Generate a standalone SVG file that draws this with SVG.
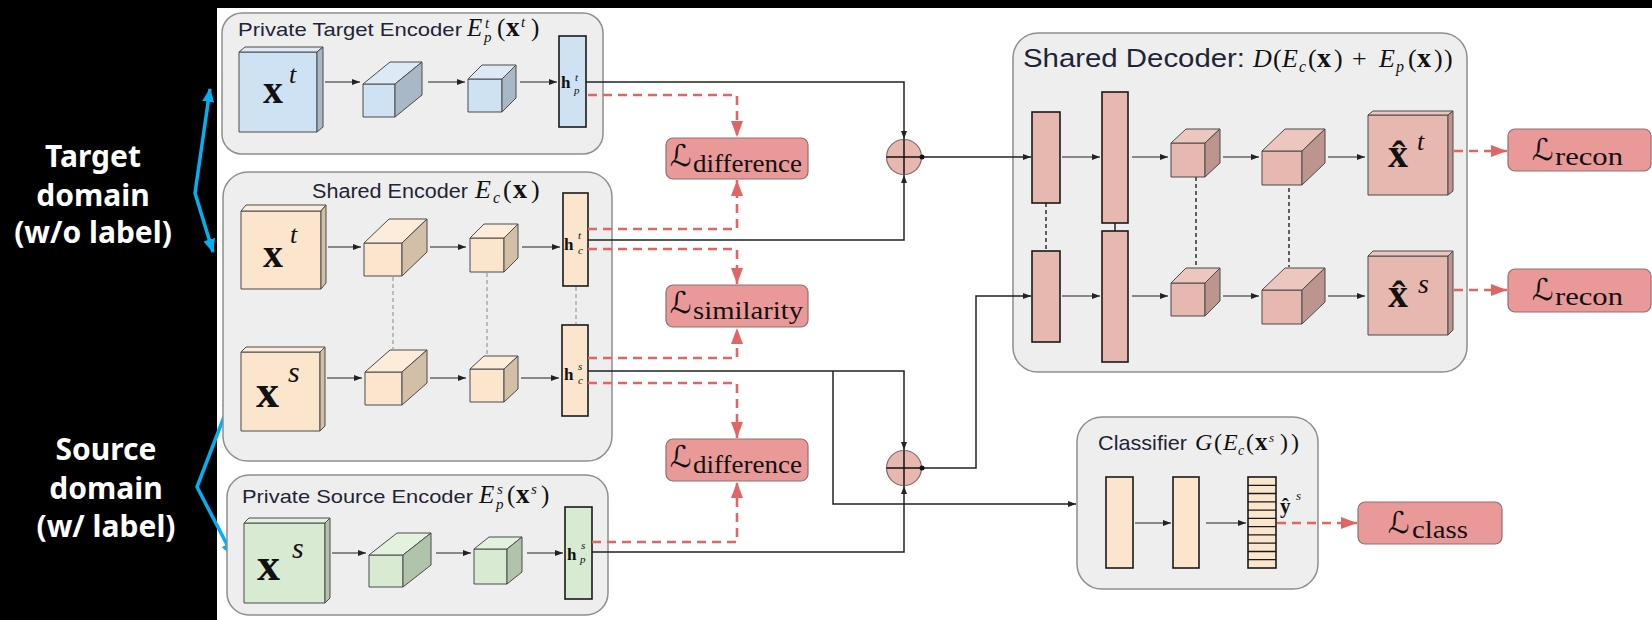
<svg xmlns="http://www.w3.org/2000/svg" width="1652" height="620" viewBox="0 0 1652 620">
  <style>
    .grp { fill: #eeeeee; stroke: #8f8f8f; stroke-width: 1.5; }
    .t { font-family: "Liberation Sans", Arial, sans-serif; fill: #1e2535; }
    .mi { font-family: "Liberation Serif", "DejaVu Serif", serif; font-style: italic; fill: #111; }
    .mr { font-family: "Liberation Serif", "DejaVu Serif", serif; fill: #111; }
    .mb { font-family: "Liberation Serif", "DejaVu Serif", serif; font-weight: bold; fill: #111; }
    .cal { font-family: "DejaVu Serif", "DejaVu Sans", serif; fill: #111; }
    .side { font-family: "Noto Sans", "Open Sans", sans-serif; font-weight: bold; fill: #ffffff; font-size: 30px; text-anchor: middle; }
    .cube { stroke: #4a4a4a; stroke-width: 1; stroke-linejoin: round; }
    .bar { stroke: #1a1a1a; stroke-width: 1.6; }
    .blue .f { fill: #cfe2f3; } .blue .tp { fill: #dde9f5; } .blue .sd { fill: #a8b8c7; }
    .peach .f { fill: #fce5cd; } .peach .tp { fill: #feecda; } .peach .sd { fill: #d3bea8; }
    .green .f { fill: #d9ead3; } .green .tp { fill: #e4f1df; } .green .sd { fill: #b2c3ac; }
    .pink .f { fill: #e6b8af; } .pink .tp { fill: #ecc6bf; } .pink .sd { fill: #bc968e; }
    .step { stroke: #222; stroke-width: 1; fill: none; marker-end: url(#ab); }
    .wire { stroke: #222; stroke-width: 1.5; fill: none; }
    .wirea { stroke: #222; stroke-width: 1.5; fill: none; marker-end: url(#ab); }
    .loss { stroke: #e06666; stroke-width: 2.6; stroke-dasharray: 9 6; fill: none; marker-end: url(#ar); }
    .tie { stroke: #9a9a9a; stroke-width: 1.2; stroke-dasharray: 4 3; fill: none; }
    .tied { stroke: #222; stroke-width: 1.4; stroke-dasharray: 4 3; fill: none; }
    .lbox { fill: #ea9999; stroke: #8f7070; stroke-width: 1.2; }
    .dom { stroke: #00b0f0; stroke-width: 3.5; fill: none; stroke-linejoin: miter; marker-start: url(#abl); marker-end: url(#abl); }
    .sum { fill: #e6b8af; stroke: #8a6a66; stroke-width: 1.2; }
  </style>
  <defs>
    <marker id="ab" viewBox="0 0 8 6" refX="8" refY="3" markerWidth="8" markerHeight="6" markerUnits="userSpaceOnUse" orient="auto">
      <path d="M0,0 L8,3 L0,6 z" fill="#222"/>
    </marker>
    <marker id="ar" viewBox="0 0 16 12" refX="16" refY="6" markerWidth="16" markerHeight="12" markerUnits="userSpaceOnUse" orient="auto">
      <path d="M0,0 L16,6 L0,12 z" fill="#e06666"/>
    </marker>
    <marker id="abl" viewBox="0 0 14 12" refX="13" refY="6" markerWidth="14" markerHeight="12" markerUnits="userSpaceOnUse" orient="auto-start-reverse">
      <path d="M0,0 L14,6 L0,12 z" fill="#00b0f0"/>
    </marker>
  </defs>

  <!-- page -->
  <rect x="0" y="0" width="1652" height="620" fill="#ffffff"/>
  <rect x="0" y="0" width="1652" height="8" fill="#000000"/>
  <rect x="0" y="0" width="217" height="620" fill="#000000"/>

  <!-- domain captions on the dark margin -->
  <g id="domain-labels">
    <text class="side" x="93" y="167">Target</text>
    <text class="side" x="93" y="206">domain</text>
    <text class="side" x="93" y="243">(w/o label)</text>
    <text class="side" x="106" y="460">Source</text>
    <text class="side" x="106" y="499">domain</text>
    <text class="side" x="106" y="537">(w/ label)</text>
    <path class="dom" d="M210,89 L195,193 L213,252"/>
    <path class="dom" d="M232,396 L197,487 L233,556"/>
  </g>

  <!-- private target encoder -->
  <g id="private-target-encoder" class="blue">
    <rect class="grp" x="222" y="13" width="381" height="141" rx="20"/>
    <text class="t" x="238" y="36" font-size="19" textLength="224" lengthAdjust="spacingAndGlyphs">Private Target Encoder</text>
    <text font-size="25"><tspan class="mi" x="467" y="36">E</tspan><tspan class="mi" x="485" y="28" font-size="15">t</tspan><tspan class="mi" x="484" y="42" font-size="15">p</tspan><tspan class="mr" x="497" y="36">(</tspan><tspan class="mb" x="506" y="36" font-size="27">x</tspan><tspan class="mi" x="521" y="27" font-size="15">t</tspan><tspan class="mr" x="531" y="36">)</tspan></text>
    <g class="cube">
      <rect class="f" x="239" y="52" width="78" height="80"/>
      <polygon class="tp" points="239,52 245,47 323,47 317,52"/>
      <polygon class="sd" points="317,52 323,47 323,127 317,132"/>
      <rect class="f" x="363" y="84" width="32" height="33"/>
      <polygon class="tp" points="363,84 390,62 422,62 395,84"/>
      <polygon class="sd" points="395,84 422,62 422,95 395,117"/>
      <rect class="f" x="468" y="79" width="34" height="33"/>
      <polygon class="tp" points="468,79 482,65 516,65 502,79"/>
      <polygon class="sd" points="502,79 516,65 516,98 502,112"/>
    </g>
    <rect class="bar f" x="559" y="36" width="27" height="91"/>
    <text class="mb" x="263" y="103" font-size="40">x</text>
    <text class="mi" x="289" y="83" font-size="26">t</text>
    <text class="mb" x="561" y="88" font-size="17">h</text>
    <text class="mi" x="575" y="81" font-size="11">t</text>
    <text class="mi" x="574" y="94" font-size="11">p</text>
    <path class="step" d="M325,82 H360"/>
    <path class="step" d="M428,82 H465"/>
    <path class="step" d="M520,82 H557"/>
  </g>

  <!-- shared encoder -->
  <g id="shared-encoder" class="peach">
    <rect class="grp" x="223" y="172" width="389" height="289" rx="25"/>
    <text class="t" x="312" y="198" font-size="20" textLength="156" lengthAdjust="spacingAndGlyphs">Shared Encoder</text>
    <text font-size="26"><tspan class="mi" x="475" y="198">E</tspan><tspan class="mi" x="493" y="203" font-size="16">c</tspan><tspan class="mr" x="503" y="198">(</tspan><tspan class="mb" x="513" y="198" font-size="28">x</tspan><tspan class="mr" x="531" y="198">)</tspan></text>
    <path class="tie" d="M393,277 V349"/>
    <path class="tie" d="M487,273 V355"/>
    <path class="tie" d="M576,287 V324"/>
    <g class="cube">
      <rect class="f" x="241" y="211" width="80" height="78"/>
      <polygon class="tp" points="241,211 246,205 326,205 321,211"/>
      <polygon class="sd" points="321,211 326,205 326,283 321,289"/>
      <rect class="f" x="364" y="243" width="38" height="33"/>
      <polygon class="tp" points="364,243 389,219 427,219 402,243"/>
      <polygon class="sd" points="402,243 427,219 427,252 402,276"/>
      <rect class="f" x="470" y="238" width="34" height="34"/>
      <polygon class="tp" points="470,238 484,224 518,224 504,238"/>
      <polygon class="sd" points="504,238 518,224 518,258 504,272"/>
      <rect class="f" x="241" y="352" width="79" height="79"/>
      <polygon class="tp" points="241,352 246,347 325,347 320,352"/>
      <polygon class="sd" points="320,352 325,347 325,426 320,431"/>
      <rect class="f" x="365" y="372" width="37" height="33"/>
      <polygon class="tp" points="365,372 390,350 427,350 402,372"/>
      <polygon class="sd" points="402,372 427,350 427,383 402,405"/>
      <rect class="f" x="470" y="369" width="34" height="33"/>
      <polygon class="tp" points="470,369 484,356 518,356 504,369"/>
      <polygon class="sd" points="504,369 518,356 518,389 504,402"/>
    </g>
    <rect class="bar f" x="563" y="193" width="25" height="93"/>
    <rect class="bar f" x="562" y="325" width="26" height="91"/>
    <text class="mb" x="263" y="267" font-size="40">x</text>
    <text class="mi" x="290" y="243" font-size="26">t</text>
    <text class="mb" x="256" y="407" font-size="46">x</text>
    <text class="mi" x="288" y="382" font-size="30">s</text>
    <text class="mb" x="564" y="250" font-size="17">h</text>
    <text class="mi" x="578" y="239" font-size="11">t</text>
    <text class="mi" x="578" y="254" font-size="11">c</text>
    <text class="mb" x="564" y="380" font-size="17">h</text>
    <text class="mi" x="578" y="370" font-size="11">s</text>
    <text class="mi" x="578" y="384" font-size="11">c</text>
    <path class="step" d="M328,247 H361"/>
    <path class="step" d="M430,247 H466"/>
    <path class="step" d="M522,247 H560"/>
    <path class="step" d="M327,378 H362"/>
    <path class="step" d="M430,378 H466"/>
    <path class="step" d="M521,378 H559"/>
  </g>

  <!-- private source encoder -->
  <g id="private-source-encoder" class="green">
    <rect class="grp" x="227" y="475" width="381" height="140" rx="22"/>
    <text class="t" x="242" y="503" font-size="19" textLength="231" lengthAdjust="spacingAndGlyphs">Private Source Encoder</text>
    <text font-size="25"><tspan class="mi" x="479" y="503">E</tspan><tspan class="mi" x="497" y="494" font-size="15">s</tspan><tspan class="mi" x="496" y="509" font-size="15">p</tspan><tspan class="mr" x="507" y="503">(</tspan><tspan class="mb" x="516" y="503" font-size="27">x</tspan><tspan class="mi" x="531" y="494" font-size="15">s</tspan><tspan class="mr" x="541" y="503">)</tspan></text>
    <g class="cube">
      <rect class="f" x="244" y="523" width="81" height="80"/>
      <polygon class="tp" points="244,523 249,518 330,518 325,523"/>
      <polygon class="sd" points="325,523 330,518 330,598 325,603"/>
      <rect class="f" x="369" y="555" width="34" height="32"/>
      <polygon class="tp" points="369,555 397,533 431,533 403,555"/>
      <polygon class="sd" points="403,555 431,533 431,565 403,587"/>
      <rect class="f" x="474" y="549" width="33" height="35"/>
      <polygon class="tp" points="474,549 489,537 522,537 507,549"/>
      <polygon class="sd" points="507,549 522,537 522,572 507,584"/>
    </g>
    <rect class="bar f" x="565" y="507" width="27" height="92"/>
    <text class="mb" x="257" y="580" font-size="46">x</text>
    <text class="mi" x="292" y="558" font-size="30">s</text>
    <text class="mb" x="567" y="560" font-size="17">h</text>
    <text class="mi" x="581" y="549" font-size="11">s</text>
    <text class="mi" x="580" y="563" font-size="11">p</text>
    <path class="step" d="M332,553 H366"/>
    <path class="step" d="M436,553 H471"/>
    <path class="step" d="M527,553 H563"/>
  </g>

  <!-- shared decoder -->
  <g id="shared-decoder" class="pink">
    <rect class="grp" x="1013" y="33" width="454" height="339" rx="25"/>
    <text class="t" x="1023" y="67" font-size="25" textLength="222" lengthAdjust="spacingAndGlyphs">Shared Decoder:</text>
    <text font-size="26"><tspan class="mi" x="1253" y="67">D</tspan><tspan class="mr" x="1273" y="67">(</tspan><tspan class="mi" x="1282" y="67">E</tspan><tspan class="mi" x="1299" y="72" font-size="16">c</tspan><tspan class="mr" x="1308" y="67">(</tspan><tspan class="mb" x="1317" y="67" font-size="28">x</tspan><tspan class="mr" x="1334" y="67">)</tspan><tspan class="mr" x="1352" y="67">+</tspan><tspan class="mi" x="1379" y="67">E</tspan><tspan class="mi" x="1396" y="72" font-size="16">p</tspan><tspan class="mr" x="1408" y="67">(</tspan><tspan class="mb" x="1417" y="67" font-size="28">x</tspan><tspan class="mr" x="1434" y="67">)</tspan><tspan class="mr" x="1444" y="67">)</tspan></text>
    <path class="tied" d="M1046,203 V251"/>
    <path class="wire" d="M1115,223 V231"/>
    <path class="tied" d="M1196,177 V268"/>
    <path class="tied" d="M1289,188 V267"/>
    <rect class="bar f" x="1032" y="112" width="28" height="91"/>
    <rect class="bar f" x="1032" y="251" width="28" height="91"/>
    <rect class="bar f" x="1102" y="92" width="26" height="131"/>
    <rect class="bar f" x="1102" y="231" width="26" height="131"/>
    <g class="cube">
      <rect class="f" x="1171" y="143" width="34" height="34"/>
      <polygon class="tp" points="1171,143 1186,129 1220,129 1205,143"/>
      <polygon class="sd" points="1205,143 1220,129 1220,163 1205,177"/>
      <rect class="f" x="1171" y="283" width="34" height="33"/>
      <polygon class="tp" points="1171,283 1186,268 1220,268 1205,283"/>
      <polygon class="sd" points="1205,283 1220,268 1220,301 1205,316"/>
      <rect class="f" x="1262" y="151" width="40" height="34"/>
      <polygon class="tp" points="1262,151 1285,129 1325,129 1302,151"/>
      <polygon class="sd" points="1302,151 1325,129 1325,163 1302,185"/>
      <rect class="f" x="1262" y="290" width="40" height="34"/>
      <polygon class="tp" points="1262,290 1285,268 1325,268 1302,290"/>
      <polygon class="sd" points="1302,290 1325,268 1325,302 1302,324"/>
      <rect class="f" x="1368" y="115" width="80" height="80"/>
      <polygon class="tp" points="1368,115 1373,111 1453,111 1448,115"/>
      <polygon class="sd" points="1448,115 1453,111 1453,191 1448,195"/>
      <rect class="f" x="1368" y="256" width="80" height="79"/>
      <polygon class="tp" points="1368,256 1373,251 1453,251 1448,256"/>
      <polygon class="sd" points="1448,256 1453,251 1453,330 1448,335"/>
    </g>
    <text class="mb" x="1388" y="167" font-size="40">x̂</text>
    <text class="mi" x="1417" y="150" font-size="26">t</text>
    <text class="mb" x="1388" y="307" font-size="40">x̂</text>
    <text class="mi" x="1418" y="293" font-size="28">s</text>
    <path class="step" d="M1062,157 H1100"/>
    <path class="step" d="M1132,157 H1168"/>
    <path class="step" d="M1223,157 H1259"/>
    <path class="step" d="M1328,157 H1365"/>
    <path class="step" d="M1062,296 H1100"/>
    <path class="step" d="M1132,296 H1168"/>
    <path class="step" d="M1223,296 H1259"/>
    <path class="step" d="M1328,296 H1365"/>
  </g>

  <!-- classifier -->
  <g id="classifier" class="peach">
    <rect class="grp" x="1077" y="417" width="241" height="172" rx="25"/>
    <text class="t" x="1098" y="450" font-size="21" textLength="89" lengthAdjust="spacingAndGlyphs">Classifier</text>
    <text font-size="24"><tspan class="mi" x="1195" y="450">G</tspan><tspan class="mr" x="1214" y="450">(</tspan><tspan class="mi" x="1223" y="450">E</tspan><tspan class="mi" x="1238" y="455" font-size="14">c</tspan><tspan class="mr" x="1246" y="450">(</tspan><tspan class="mb" x="1255" y="450" font-size="25">x</tspan><tspan class="mi" x="1269" y="442" font-size="13">s</tspan><tspan class="mr" x="1280" y="450">)</tspan><tspan class="mr" x="1291" y="450">)</tspan></text>
    <rect class="bar f" x="1106" y="477" width="27" height="91"/>
    <rect class="bar f" x="1173" y="477" width="26" height="91"/>
    <rect class="bar f" x="1248" y="477" width="28" height="91"/>
    <path d="M1248,485.3 H1276 M1248,493.5 H1276 M1248,501.8 H1276 M1248,510.1 H1276 M1248,518.4 H1276 M1248,526.6 H1276 M1248,534.9 H1276 M1248,543.2 H1276 M1248,551.5 H1276 M1248,559.7 H1276" stroke="#1a1a1a" stroke-width="1.3"/>
    <text class="mb" x="1280" y="513" font-size="21">ŷ</text>
    <text class="mi" x="1296" y="500" font-size="13">s</text>
    <path class="step" d="M1135,523 H1171"/>
    <path class="step" d="M1206,523 H1246"/>
  </g>

  <!-- connectors -->
  <g id="connectors">
    <path class="wirea" d="M586,82 H904 V139"/>
    <path class="wirea" d="M588,240 H904 V175"/>
    <path class="wirea" d="M922,157 H1031"/>
    <path class="wirea" d="M588,371 H904 V450"/>
    <path class="wirea" d="M833,371 V504 H1076"/>
    <path class="wirea" d="M592,552 H904 V486"/>
    <path class="wirea" d="M922,468 H976 V296 H1031"/>
    <path class="loss" d="M588,95 H737 V137"/>
    <path class="loss" d="M588,229 H737 V180"/>
    <path class="loss" d="M588,249 H737 V284"/>
    <path class="loss" d="M588,358 H737 V328"/>
    <path class="loss" d="M588,383 H737 V438"/>
    <path class="loss" d="M592,542 H737 V482"/>
    <path class="loss" d="M1454,151 H1507"/>
    <path class="loss" d="M1454,290 H1507"/>
    <path class="loss" d="M1277,523 H1357"/>
  </g>

  <!-- feature sums -->
  <g id="sum-target">
    <circle class="sum" cx="904" cy="157" r="17.5"/>
    <path d="M886.5,157 H921.5 M904,139.5 V174.5" stroke="#111" stroke-width="1.5"/>
    <circle cx="922" cy="157" r="2.5" fill="#111"/>
  </g>
  <g id="sum-source">
    <circle class="sum" cx="904" cy="468" r="17.5"/>
    <path d="M886.5,468 H921.5 M904,450.5 V485.5" stroke="#111" stroke-width="1.5"/>
    <circle cx="922" cy="468" r="2.5" fill="#111"/>
  </g>

  <!-- loss terms -->
  <g id="loss-difference-target">
    <rect class="lbox" x="666" y="138" width="142" height="41" rx="7"/>
    <text class="cal" x="670" y="166" font-size="30">ℒ</text>
    <text class="mr" x="693" y="172" font-size="26" textLength="109" lengthAdjust="spacingAndGlyphs">difference</text>
  </g>
  <g id="loss-similarity">
    <rect class="lbox" x="666" y="285" width="142" height="42" rx="7"/>
    <text class="cal" x="670" y="313" font-size="30">ℒ</text>
    <text class="mr" x="693" y="319" font-size="26" textLength="110" lengthAdjust="spacingAndGlyphs">similarity</text>
  </g>
  <g id="loss-difference-source">
    <rect class="lbox" x="666" y="439" width="142" height="42" rx="7"/>
    <text class="cal" x="670" y="467" font-size="30">ℒ</text>
    <text class="mr" x="693" y="473" font-size="26" textLength="109" lengthAdjust="spacingAndGlyphs">difference</text>
  </g>
  <g id="loss-recon-target">
    <rect class="lbox" x="1508" y="129" width="143" height="42" rx="7"/>
    <text class="cal" x="1532" y="160" font-size="30">ℒ</text>
    <text class="mr" x="1555" y="165" font-size="26" textLength="68" lengthAdjust="spacingAndGlyphs">recon</text>
  </g>
  <g id="loss-recon-source">
    <rect class="lbox" x="1508" y="269" width="143" height="43" rx="7"/>
    <text class="cal" x="1532" y="300" font-size="30">ℒ</text>
    <text class="mr" x="1555" y="305" font-size="26" textLength="68" lengthAdjust="spacingAndGlyphs">recon</text>
  </g>
  <g id="loss-class">
    <rect class="lbox" x="1358" y="502" width="144" height="42" rx="7"/>
    <text class="cal" x="1388" y="533" font-size="30">ℒ</text>
    <text class="mr" x="1412" y="538" font-size="26" textLength="56" lengthAdjust="spacingAndGlyphs">class</text>
  </g>
</svg>
